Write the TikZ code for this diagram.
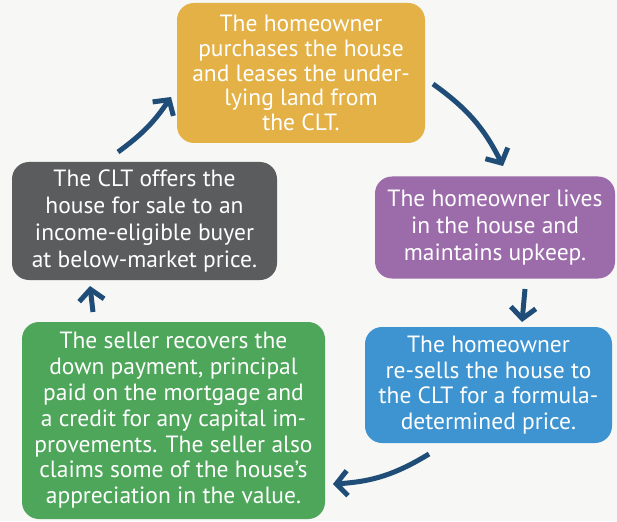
\documentclass[tikz,border=0pt]{standalone}
\usepackage{fontspec}
\setmainfont{PT Sans}
\usetikzlibrary{arrows.meta}
\definecolor{paper}{HTML}{F7F7F5}
\definecolor{boxgold}{HTML}{E3B145}
\definecolor{boxgray}{HTML}{5B5C5E}
\definecolor{boxviolet}{HTML}{9C6BAA}
\definecolor{boxblue}{HTML}{3D94D0}
\definecolor{boxgreen}{HTML}{4EA65B}
\definecolor{arrowblue}{HTML}{1F4D78}
\begin{document}
\begin{tikzpicture}[x=1pt,y=-1pt,
  stage/.style={rounded corners=17pt, inner sep=0pt, text=white, align=center,
    font=\fontsize{23.5}{25.5}\selectfont},
  stageloose/.style={stage, font=\fontsize{23.5}{27}\selectfont},
  flow/.style={draw=arrowblue, line width=5pt,
    -{Straight Barb[length=11pt,width=25pt,line width=5pt]}}]
  \fill[paper] (0,0) rectangle (617,521);
  \useasboundingbox (0,0) rectangle (617,521);

  % the five stages of the resale cycle
  \node[stage, fill=boxgold, minimum width=248pt, minimum height=140pt,
        font=\fontsize{23.5}{24.8}\selectfont] (buy) at (301,73)
    {The homeowner\\purchases the house\\and leases the under-\\lying land from\\the CLT.};
  \node[stageloose, fill=boxviolet, minimum width=240pt, minimum height=102pt] (live) at (495,227.5)
    {The homeowner lives\\in the house and\\maintains upkeep.};
  \node[stage, fill=boxblue, minimum width=247pt, minimum height=116pt] (resell) at (488.5,385)
    {The homeowner\\re-sells the house to\\the CLT for a formula-\\determined price.};
  \node[stage, fill=boxgreen, minimum width=303pt, minimum height=197pt,
        font=\fontsize{23.5}{25.8}\selectfont] (recover) at (173.5,420.5)
    {The seller recovers the\\down payment, principal\\paid on the mortgage and\\a credit for any capital im-\\provements. The seller also\\claims some of the house's\\appreciation in the value.};
  \node[stageloose, fill=boxgray, minimum width=265pt, minimum height=118pt] (offer) at (144.5,221)
    {The CLT offers the\\house for sale to an\\income-eligible buyer\\at below-market price.};

  % arrow end points
  \coordinate (a1s) at (118,152);  \coordinate (a1e) at (171,97);
  \coordinate (a2s) at (433,84);   \coordinate (a2e) at (503,166);
  \coordinate (a3s) at (525,289);  \coordinate (a3e) at (522,322);
  \coordinate (a4s) at (429,454);  \coordinate (a4e) at (333,484);
  \coordinate (a5s) at (93,312);   \coordinate (a5e) at (90,286);

  \draw[flow] (a1s) to[bend right=10] (a1e);
  \draw[flow] (a2s) to[bend left=14] (a2e);
  \draw[flow] (a3s) -- (a3e);
  \draw[flow] (a4s) to[bend left=14] (a4e);
  \draw[flow] (a5s) -- (a5e);
\end{tikzpicture}
\end{document}
